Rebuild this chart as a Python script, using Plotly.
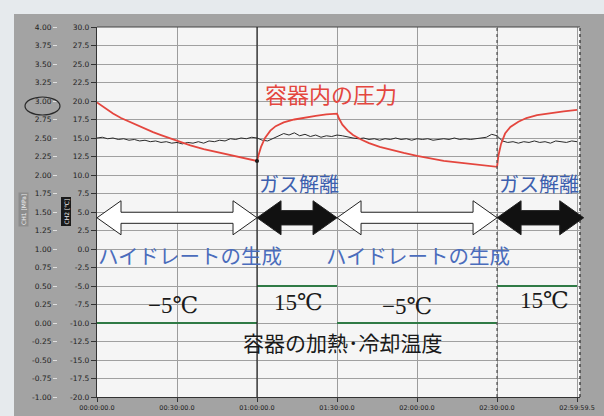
import plotly.graph_objects as go

# ---------------- data ----------------
# time in minutes
black_t = list(range(0, 181, 2))
black_v = [15.0, 15.1, 14.9, 15.0, 14.8, 14.9, 14.7, 14.8, 14.6, 14.7, 14.5,
           14.6, 14.4, 14.5, 14.3, 14.4, 14.2, 14.4, 14.3, 14.5, 14.3,
           14.6, 14.5, 14.7, 14.6, 14.9, 14.8, 15.0, 14.9, 15.1, 15.0,
           14.7, 14.6, 14.9, 15.2, 15.6, 15.4, 15.7, 15.3, 15.5, 15.2,
           15.4, 15.1, 15.3, 15.2, 15.4, 15.3, 15.1, 15.0, 14.9, 15.0,
           14.8, 14.9, 14.7, 14.9, 14.8, 15.0, 14.8, 14.9, 14.7, 14.9,
           14.8, 14.9, 14.7, 14.8, 14.9, 14.8, 15.0, 14.8, 14.9, 14.8,
           14.9, 15.0, 15.1, 15.5, 15.3, 14.6, 14.4, 14.5, 14.3, 14.5,
           14.4, 14.6, 14.4, 14.5, 14.3, 14.6, 14.5, 14.4, 14.6, 14.5]

red_t = [0, 3, 6, 9, 12, 15, 18, 21, 24, 27, 30, 35, 40, 45, 50, 55, 60,
         60.5, 61.5, 63, 65, 67, 70, 74, 78, 82, 86, 90,
         90.8, 92, 94, 96, 99, 102, 106, 110, 115, 120, 125, 130, 135, 140, 145, 150,
         150.5, 151.5, 153, 155, 158, 161, 165, 170, 175, 180]
red_v = [19.8, 19.0, 18.3, 17.7, 17.2, 16.7, 16.2, 15.8, 15.4, 15.0, 14.6, 14.0, 13.5, 13.1, 12.7, 12.3, 11.9,
         12.6, 13.8, 15.0, 16.0, 16.6, 17.1, 17.5, 17.8, 18.0, 18.2, 18.3,
         17.6, 16.8, 16.0, 15.4, 14.8, 14.3, 13.8, 13.4, 13.0, 12.6, 12.2, 11.9, 11.7, 11.5, 11.3, 11.1,
         12.6, 14.2, 15.6, 16.5, 17.2, 17.7, 18.1, 18.4, 18.6, 18.8]

# phases: boundaries (minutes), heater/cooler set level (right-axis units), labels
phase_bounds = [0, 60, 90, 150, 180]
phase_level = [-10.0, -5.0, -10.0, -5.0]
phase_kind = ["form", "release", "form", "release"]
phase_temp_text = ["−5℃", "15℃", "−5℃", "15℃"]

x_tick_vals = [0, 30, 60, 90, 120, 150, 180]
x_tick_text = ["00:00:00.0", "00:30:00.0", "01:00:00.0", "01:30:00.0",
               "02:00:00.0", "02:30:00.0", "02:59:59.5"]
y_tick_vals = [30 - 2.5 * i for i in range(21)]
y_tick_text = ["%.1f" % v for v in y_tick_vals]
y2_tick_vals = [4 - 0.25 * i for i in range(21)]
y2_tick_text = ["%.2f" % v for v in y2_tick_vals]

# ---------------- geometry helpers ----------------
XMAX = 181.1
YMIN, YMAX = -20.0, 30.0
L, R, T, B = 97, 24, 27, 19
W, H = 604, 416
PW, PH = W - L - R, H - T - B


def px2x(px):
    return (px - L) / PW


def py2y(py):
    return (H - B - py) / PH


def t2p(t):
    return t / XMAX


def v2p(v):
    return (v - YMIN) / (YMAX - YMIN)


fig = go.Figure()

# temperature set lines
gx, gy = [], []
for i, lev in enumerate(phase_level):
    gx += [phase_bounds[i], phase_bounds[i + 1], None]
    gy += [lev, lev, None]
fig.add_trace(go.Scatter(x=gx, y=gy, mode="lines", line=dict(color="#2f7a45", width=2),
                         hoverinfo="skip", showlegend=False))

fig.add_trace(go.Scatter(x=black_t, y=black_v, mode="lines",
                         line=dict(color="#2a2a2a", width=1), showlegend=False))
fig.add_trace(go.Scatter(x=red_t, y=red_v, mode="lines",
                         line=dict(color="#e4463e", width=1.8), showlegend=False))
fig.add_trace(go.Scatter(x=[red_t[16]], y=[red_v[16]], mode="markers",
                         marker=dict(color="#111", size=4), showlegend=False))

shapes = []
# photo frame background and plot area
shapes.append(dict(type="rect", xref="paper", yref="paper", layer="below",
                   x0=px2x(14), x1=px2x(606), y0=py2y(420), y1=py2y(14),
                   fillcolor="#a3a3a3", line=dict(width=0)))
shapes.append(dict(type="rect", xref="paper", yref="paper", layer="below",
                   x0=0, x1=1, y0=0, y1=1, fillcolor="#f5f5f5", line=dict(width=0)))
# borders
shapes.append(dict(type="line", xref="paper", yref="paper", x0=0, x1=1, y0=1, y1=1,
                   line=dict(color="#444", width=1.2)))
shapes.append(dict(type="line", xref="paper", yref="paper", x0=1, x1=1, y0=0, y1=1,
                   line=dict(color="#444", width=1.5, dash="dot")))
# phase boundary markers
shapes.append(dict(type="line", xref="paper", yref="paper", x0=t2p(60), x1=t2p(60), y0=0, y1=1,
                   line=dict(color="#222", width=1.2)))
shapes.append(dict(type="line", xref="paper", yref="paper", x0=t2p(150), x1=t2p(150), y0=0, y1=1,
                   line=dict(color="#555", width=1.3, dash="dot")))

# double arrows for phases
yc, head_h, head_l = 4.22, 2.3, 9.0
for i, kind in enumerate(phase_kind):
    a = phase_bounds[i]
    b = phase_bounds[i + 1] + (2.5 if i == len(phase_kind) - 1 else 0)
    s = 0.97 if kind == "release" else 0.75
    pts = [(a, yc), (a + head_l, yc + head_h), (a + head_l, yc + s), (b - head_l, yc + s),
           (b - head_l, yc + head_h), (b, yc), (b - head_l, yc - head_h), (b - head_l, yc - s),
           (a + head_l, yc - s), (a + head_l, yc - head_h)]
    path = "M " + " L ".join("%.5f,%.5f" % (t2p(x), v2p(y)) for x, y in pts) + " Z"
    shapes.append(dict(type="path", xref="paper", yref="paper", path=path,
                       fillcolor="#111111" if kind == "release" else "#ffffff",
                       line=dict(color="#222", width=1)))

# circled 3.00
shapes.append(dict(type="circle", xref="paper", yref="paper",
                   x0=px2x(25), x1=px2x(60), y0=py2y(115), y1=py2y(97),
                   line=dict(color="#2a2a2a", width=1.2)))

jp = "Noto Sans CJK JP"
ser = "Liberation Serif, DejaVu Serif, Noto Sans CJK JP"
ann = []
ann.append(dict(x=87.75, y=21.1, text="容器内の圧力", showarrow=False,
                font=dict(family=jp, size=22, color="#e4463e")))
for i, kind in enumerate(phase_kind):
    a, b = phase_bounds[i], phase_bounds[i + 1]
    if kind == "release":
        ann.append(dict(x=a + 15.7, y=8.8, text="ガス解離", showarrow=False,
                        font=dict(family=jp, size=20, color="#3d5fae")))
    else:
        ann.append(dict(x=a + 34.9 if i == 0 else a + 30.4, y=-0.8, text="ハイドレートの生成",
                        showarrow=False, font=dict(family=jp, size=20.5, color="#4a6cbc")))
temp_pos = [(28.5, -7.6), (75.4, -7.2), (116.3, -7.8), (167.6, -6.9)]
for (tx, ty), txt in zip(temp_pos, phase_temp_text):
    ann.append(dict(x=tx, y=ty, text=txt, showarrow=False,
                    font=dict(family=ser, size=23, color="#1a1a1a")))
ann.append(dict(x=92.25, y=-12.6, text="容器の加熱･冷却温度", showarrow=False,
                font=dict(family=jp, size=21, color="#1a1a1a")))
# rotated axis captions
ann.append(dict(xref="paper", yref="paper", x=px2x(17.5), y=py2y(210), text="CH1 [MPa]",
                textangle=-90, showarrow=False, bgcolor="#8d8d8d",
                font=dict(family="DejaVu Sans", size=6, color="#eeeeee")))
ann.append(dict(xref="paper", yref="paper", x=px2x(60), y=py2y(212), text="CH2 [℃]",
                textangle=-90, showarrow=False, bgcolor="#1a1a1a",
                font=dict(family="DejaVu Sans", size=6, color="#eeeeee")))

fig.update_layout(
    width=W, height=H,
    margin=dict(l=L, r=R, t=T, b=B, pad=0, autoexpand=False),
    paper_bgcolor="#e6eaed",
    plot_bgcolor="rgba(0,0,0,0)",
    shapes=shapes, annotations=ann, showlegend=False,
    xaxis=dict(range=[0, XMAX], tickmode="array", tickvals=x_tick_vals, ticktext=x_tick_text,
               showgrid=True, gridcolor="#9c9c9c", gridwidth=1, zeroline=False,
               showline=True, linecolor="#333", linewidth=1.2, automargin=False,
               ticks="outside", ticklen=4, tickcolor="#333",
               tickfont=dict(family="DejaVu Sans", size=6.5, color="#222")),
    yaxis=dict(range=[YMIN, YMAX], tickmode="array", tickvals=y_tick_vals, ticktext=y_tick_text,
               showgrid=True, gridcolor="#a0a0a0", gridwidth=1, zeroline=False,
               showline=True, linecolor="#333", linewidth=1.2, automargin=False,
               ticks="outside", ticklen=5, tickcolor="#333",
               tickfont=dict(family="DejaVu Sans", size=7.5, color="#222")),
    yaxis2=dict(range=[-1, 4], overlaying="y", side="left", anchor="free", position=0,
                shift=-40, tickmode="array", tickvals=y2_tick_vals, ticktext=y2_tick_text,
                showgrid=False, zeroline=False, showline=False, automargin=False,
                ticks="outside", ticklen=4, tickcolor="#e0e0e0",
                tickfont=dict(family="DejaVu Sans", size=7.5, color="#222")),
)
# dummy trace to show yaxis2
fig.add_trace(go.Scatter(x=[None], y=[None], yaxis="y2", showlegend=False))

fig.write_html("out.html", config={"displayModeBar": False},
               post_script="document.body.style.margin='0';document.body.style.overflow='hidden';")
